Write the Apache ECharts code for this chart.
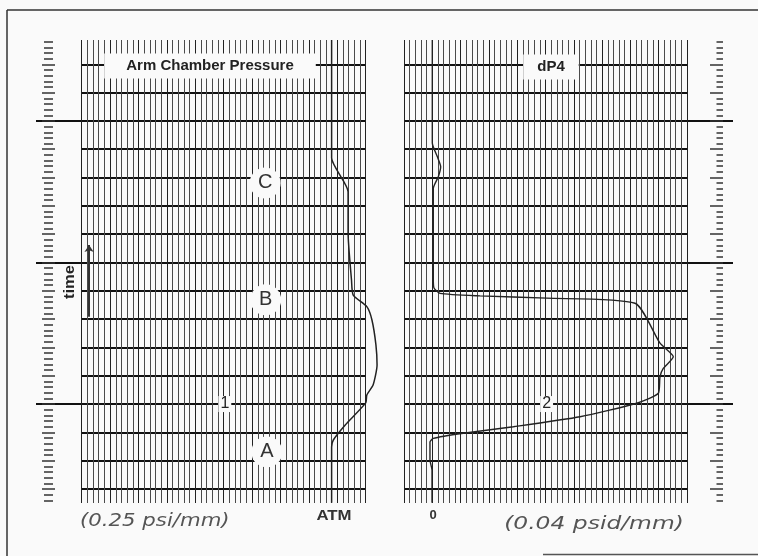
<!DOCTYPE html>
<html><head><meta charset="utf-8">
<script src="https://cdn.jsdelivr.net/npm/echarts@6/dist/echarts.min.js"></script>
<style>html,body{margin:0;padding:0;background:#fafafa}#c{width:758px;height:556px}</style>
</head><body><div id="c"></div>
<script>
// Time (vertical) in major chart divisions, 0 = bottom bold line; pen deflection in minor divisions (50 per panel)
const armChamberX = [44.0, 44.0, 46.9, 46.9, 47.5, 47.8, 50.2, 51.1, 51.8, 52.0, 51.3, 50.2, 50.0, 46.4, 44.3, 44.0, 44.0];
const armChamberT = [15.86, 11.69, 10.50, 9.04, 7.38, 6.85, 6.44, 5.97, 5.09, 4.38, 3.67, 3.32, 3.04, 2.26, 1.73, 1.48, -0.49];
const dP4X = [5.0, 5.0, 5.88, 6.48, 6.06, 5.18, 5.18, 5.3, 6.36, 13.43, 25.21, 40.81, 45.23, 47.58, 45.81, 45.23, 44.93, 41.11, 31.1, 19.31, 10.48, 5.18, 4.59, 4.59, 4.95, 4.95];
const dP4T = [15.86, 12.22, 11.74, 11.38, 11.03, 10.62, 7.38, 7.10, 6.91, 6.82, 6.74, 6.56, 5.15, 4.67, 4.26, 3.97, 3.38, 3.03, 2.55, 2.20, 1.97, 1.79, 1.66, 1.02, 0.67, -0.49];
const eventLabels = ['C', 'B', 'A'];
const eventX = [32.3, 32.4, 32.6];
const eventT = [10.81, 6.68, 1.31];
const channelLabels = ['1', '2'];
const channelX = [25.2, 25.2];
const channelT = [3.0, 3.0];
const timeArrowX = [1.3, 1.3];
const timeArrowT = [6.08, 8.62];
const panelTitles = ['Arm Chamber Pressure', 'dP4'];
const scaleLabels = ['(0.25 psi/mm)', '(0.04 psid/mm)'];
const zeroLabels = ['ATM', '0'];

const BG = '#fafafa';
const zip = (a, b) => a.map((v, i) => [v, b[i]]);
const chart = echarts.init(document.getElementById('c'));

const hidden = {axisLine:{show:false}, axisTick:{show:false}, axisLabel:{show:false}, splitLine:{show:false}};
function vGridX(i){ return Object.assign({}, hidden, {gridIndex:i, type:'value', min:0, max:50, interval:5,
  splitLine:{show:true, lineStyle:{color:'#222', width:1}},
  minorTick:{show:false, splitNumber:5},
  minorSplitLine:{show:true, lineStyle:{color:'#4a4a4a', width:1}}}); }
function plainX(i, max){ return Object.assign({}, hidden, {gridIndex:i, type:'value', min:0, max:max || 50}); }
function plainY(i, min, max){ return Object.assign({}, hidden, {gridIndex:i, type:'value', min:min || 0, max:max || 1}); }
function hLinesY(i, max, interval){ return Object.assign({}, hidden, {gridIndex:i, type:'value', min:0, max:max, interval:interval,
  splitLine:{show:true, lineStyle:{color:'#111', width:2}}}); }
function rulerY(i, min, max, pos, offset, len){ return Object.assign({}, hidden, {gridIndex:i, type:'value', min:min, max:max, interval:1,
  position:pos, offset:offset,
  axisTick:{show:true, inside:true, length:len, lineStyle:{color:'#333', width:1.5}}}); }

const U = 28.313; // px per major division
const option = {
  backgroundColor: BG,
  animation: false,
  grid: [
    {left:81.7, top:40, width:284, height:463},
    {left:404, top:40, width:283, height:463},
    {left:81.7, top:64.3, width:284, height:424.7},
    {left:404, top:64.3, width:283, height:424.7},
    {left:36, top:120.93, width:45.7, height:283.13},
    {left:687, top:120.93, width:46, height:283.13},
    {left:44, top:41.65, width:10, height:458.68},
    {left:716.5, top:41.65, width:10, height:458.68},
    {left:81.7, top:489 - 16 * U, width:284 * 1.2, height:17 * U},
    {left:404, top:489 - 16 * U, width:283 * 1.2, height:17 * U}
  ],
  xAxis: [vGridX(0), vGridX(1), plainX(2), plainX(3), plainX(4), plainX(5), plainX(6), plainX(7), plainX(8, 60), plainX(9, 60)],
  yAxis: [
    plainY(0), plainY(1),
    hLinesY(2, 15, 1), hLinesY(3, 15, 1),
    rulerY(2, 0, 15, 'left', 39.7, 13),
    rulerY(3, 0, 15, 'right', 36, 13),
    hLinesY(4, 10, 5), hLinesY(5, 10, 5),
    rulerY(6, -2, 79, 'left', 0, 9),
    rulerY(7, -2, 79, 'left', 0, 6.5),
    plainY(8, -1, 16), plainY(9, -1, 16)
  ],
  series: [
    {type:'line', name:'Arm Chamber Pressure', xAxisIndex:8, yAxisIndex:10, data:zip(armChamberX, armChamberT),
     showSymbol:false, smooth:0.2, lineStyle:{color:'#222', width:1.5}, z:4},
    {type:'line', name:'dP4', xAxisIndex:9, yAxisIndex:11, data:zip(dP4X, dP4T),
     showSymbol:false, smooth:0.2, lineStyle:{color:'#222', width:1.4}, z:4},
    {type:'scatter', xAxisIndex:2, yAxisIndex:2, symbol:'circle', symbolSize:31, z:6,
     itemStyle:{color:BG, opacity:1},
     data: eventLabels.map((n, i) => ({name:n, value:[eventX[i], eventT[i]]})),
     label:{show:true, position:'inside', formatter:p => p.name, fontFamily:'Liberation Sans', fontSize:20, color:'#333'}},
    {type:'scatter', xAxisIndex:2, yAxisIndex:2, symbolSize:1, z:6, itemStyle:{color:BG, opacity:1},
     data:[{name:channelLabels[0], value:[channelX[0], channelT[0]]}],
     label:{show:true, position:'inside', formatter:p => p.name, fontFamily:'Liberation Sans', fontSize:16, color:'#222', backgroundColor:BG, padding:[0,2]}},
    {type:'scatter', xAxisIndex:3, yAxisIndex:3, symbolSize:1, z:6, itemStyle:{color:BG, opacity:1},
     data:[{name:channelLabels[1], value:[channelX[1], channelT[1]]}],
     label:{show:true, position:'inside', formatter:p => p.name, fontFamily:'Liberation Sans', fontSize:16, color:'#222', backgroundColor:BG, padding:[0,2]}},
    {type:'lines', coordinateSystem:'cartesian2d', xAxisIndex:2, yAxisIndex:2, z:6,
     symbol:['none','arrow'], symbolSize:7,
     lineStyle:{color:'#333', width:2, opacity:1},
     data:[{coords: zip(timeArrowX, timeArrowT)}]}
  ],
  graphic: [
    {type:'text', z:100, x:210, y:66, style:{text:panelTitles[0], align:'center', verticalAlign:'middle', font:'bold 15px "Liberation Sans"', fill:'#222', backgroundColor:BG, padding:[5,22]}},
    {type:'text', z:100, x:551, y:67, style:{text:panelTitles[1], align:'center', verticalAlign:'middle', font:'bold 15px "Liberation Sans"', fill:'#222', backgroundColor:BG, padding:[5,14]}},
    {type:'text', z:100, x:334, y:516, scaleX:1.2, style:{text:zeroLabels[0], align:'center', verticalAlign:'middle', font:'bold 14px "Liberation Sans"', fill:'#333'}},
    {type:'text', z:100, x:433, y:515, style:{text:zeroLabels[1], align:'center', verticalAlign:'middle', font:'bold 13px "Liberation Sans"', fill:'#333'}},
    {type:'text', z:100, x:80, y:521, scaleX:1.18, style:{text:scaleLabels[0], align:'left', verticalAlign:'middle', font:'oblique 18px "DejaVu Sans"', fill:'#555'}},
    {type:'text', z:100, x:594, y:524, scaleX:1.3, style:{text:scaleLabels[1], align:'center', verticalAlign:'middle', font:'oblique 18px "DejaVu Sans"', fill:'#555'}},
    {type:'text', z:100, x:70, y:282, rotation:Math.PI/2, scaleX:1.1, style:{text:'time', align:'center', verticalAlign:'middle', font:'bold 15px "Liberation Sans"', fill:'#222'}},
    {type:'line', z:100, shape:{x1:7, y1:10, x2:758, y2:10}, style:{stroke:'#333', lineWidth:1.5}},
    {type:'line', z:100, shape:{x1:7, y1:10, x2:7, y2:556}, style:{stroke:'#333', lineWidth:1.5}},
    {type:'line', z:100, shape:{x1:543, y1:554.5, x2:758, y2:554.5}, style:{stroke:'#555', lineWidth:1.5}}
  ]
};
chart.setOption(option);
</script></body></html>
